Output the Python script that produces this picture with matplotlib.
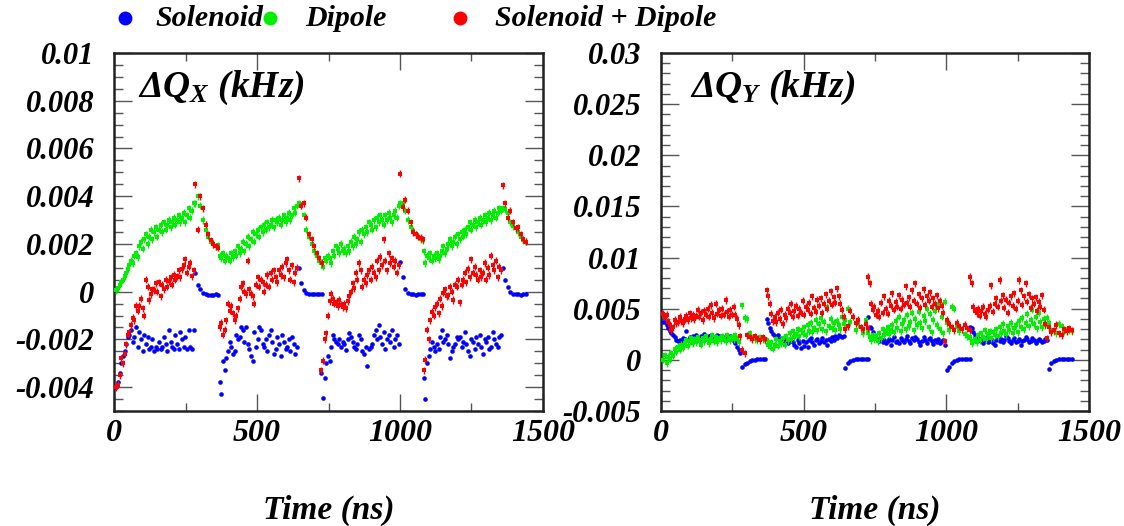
import numpy as np
import matplotlib
matplotlib.use('Agg')
import matplotlib.pyplot as plt
from matplotlib.lines import Line2D
from matplotlib.ticker import MultipleLocator

plt.rcParams['font.family'] = ['Liberation Serif', 'DejaVu Serif']
plt.rcParams['font.style'] = 'italic'
plt.rcParams['font.weight'] = 'bold'
plt.rcParams['mathtext.fontset'] = 'custom'
plt.rcParams['mathtext.rm'] = 'Liberation Serif:italic:bold'
plt.rcParams['mathtext.it'] = 'Liberation Serif:italic:bold'
plt.rcParams['mathtext.bf'] = 'Liberation Serif:italic:bold'

# ---------------- data (values in units of 1e-3) ----------------
series_names = ["Solenoid", "Dipole", "Solenoid + Dipole"]
series_colors = ["#0000ff", "#00ee00", "#ff0000"]

train_start_ns = [8, 370, 725, 1083]
bunch_span_ns = 270
tail_window_ns = [276, 357]

# ---- Delta Q_X ----
sol_x_bunch = [
    [-4.0, -3.8, -3.4, -3.0, -2.7, -2.5, -2.2, -1.9, -1.8, -1.6, -2.1, -1.9, -1.5, -2.3, -1.7, -2.0, -2.5, -1.8, -2.2, -1.9, -2.4, -2.3, -2.0, -2.5, -2.3, -2.4, -2.1, -2.4, -2.3, -1.9, -2.2, -2.5, -1.6, -2.1, -2.3, -2.4, -1.8, -2.2, -2.4, -1.7, -2.0, -2.3, -1.9, -2.4, -1.6, -2.3, -2.4, -1.6],
    [-3.8, -4.3, -2.9, -3.3, -2.8, -2.5, -2.1, -2.3, -2.6, -2.5, -1.8, -2.0, -1.9, -1.5, -1.6, -2.1, -1.5, -2.2, -2.4, -2.7, -2.9, -1.7, -2.3, -2.0, -1.5, -1.6, -2.2, -2.3, -2.0, -2.5, -1.8, -1.6, -2.1, -2.6, -2.4, -1.9, -2.2, -2.7, -1.8, -2.1, -2.4, -2.3, -2.0, -2.5, -1.9, -2.2, -2.6, -2.3],
    [-3.4, -4.45, -3.6, -3.0, -2.7, -2.9, -2.3, -1.8, -2.0, -2.1, -2.2, -2.0, -2.3, -2.1, -2.2, -2.45, -2.0, -1.75, -1.9, -2.1, -2.3, -2.4, -2.2, -1.8, -2.0, -2.5, -2.6, -2.3, -3.1, -2.4, -2.3, -2.2, -1.8, -1.6, -2.0, -1.4, -1.9, -2.2, -1.7, -2.4, -2.0, -1.8, -2.1, -1.6, -2.3, -2.0, -1.8, -2.2],
    [-3.6, -4.5, -3.0, -2.7, -2.4, -2.1, -2.3, -2.5, -2.2, -2.4, -1.9, -1.6, -2.1, -2.0, -1.8, -2.2, -2.8, -2.5, -2.3, -2.2, -1.9, -2.0, -1.9, -2.3, -2.1, -1.7, -2.2, -2.5, -2.7, -2.0, -2.1, -2.4, -1.9, -2.2, -1.8, -2.3, -2.6, -2.0, -2.1, -1.9, -2.4, -2.3, -1.7, -2.0, -2.2, -2.3, -1.9, -1.8],
]
sol_x_tail = [
    [0.8, 0.3, 0.1, -0.05, -0.1, -0.15, -0.15, -0.15, -0.1, -0.15],
    [1.0, 0.35, 0.05, -0.05, -0.1, -0.1, -0.1, -0.1, -0.1, -0.1],
    [1.25, 0.6, 0.1, -0.05, -0.1, -0.1, -0.15, -0.1, -0.1, -0.1],
    [1.0, 0.5, 0.2, 0.0, -0.1, -0.1, -0.1, -0.15, -0.1, -0.1],
]
dip_x_bunch = [
    [0.05, 0.15, 0.3, 0.4, 0.5, 0.65, 0.8, 0.95, 1.1, 1.3, 1.2, 1.5, 1.6, 1.45, 1.9, 2.1, 1.8, 2.2, 2.4, 2.0, 2.3, 2.6, 2.2, 2.5, 2.7, 2.3, 2.6, 2.8, 2.5, 2.9, 2.6, 2.8, 3.0, 2.7, 2.9, 3.1, 2.8, 3.0, 3.2, 2.9, 3.1, 3.3, 2.9, 3.2, 3.5, 3.1, 3.4, 3.7],
    [1.5, 1.4, 1.6, 1.3, 1.5, 1.4, 1.3, 1.6, 1.45, 1.7, 1.5, 1.9, 1.6, 1.8, 2.1, 1.7, 2.0, 2.3, 1.9, 2.2, 2.5, 2.1, 2.4, 2.6, 2.3, 2.7, 2.5, 2.8, 2.6, 2.9, 2.7, 2.8, 3.0, 2.7, 3.0, 2.9, 3.1, 2.8, 3.0, 3.2, 2.9, 3.1, 3.3, 3.0, 3.2, 3.5, 3.3, 3.6],
    [1.2, 1.05, 1.4, 1.3, 1.5, 1.4, 1.2, 1.7, 1.5, 1.9, 1.8, 1.6, 2.0, 1.7, 1.8, 1.6, 1.9, 1.7, 2.1, 1.9, 2.3, 2.0, 2.2, 2.5, 2.1, 2.6, 2.4, 2.7, 2.5, 2.9, 2.8, 2.6, 3.0, 2.7, 3.1, 2.9, 3.2, 3.0, 2.8, 3.2, 3.0, 3.3, 3.1, 2.9, 3.2, 3.4, 3.1, 3.6],
    [1.7, 1.2, 1.5, 1.4, 1.6, 1.3, 1.5, 1.4, 1.6, 1.35, 1.5, 1.7, 1.9, 1.6, 1.8, 2.0, 2.2, 1.9, 2.1, 2.3, 2.0, 2.4, 2.2, 2.5, 2.3, 2.6, 2.4, 2.7, 2.9, 2.6, 2.8, 3.0, 2.7, 2.9, 3.1, 2.8, 3.0, 3.2, 2.9, 3.1, 3.3, 3.0, 3.2, 3.4, 3.1, 3.3, 3.5, 3.4],
]
dip_x_tail = [
    [3.7, 4.0, 3.6, 3.0, 2.6, 2.3, 2.1, 2.0, 1.9, 1.95],
    [3.7, 3.6, 3.2, 2.6, 2.3, 2.0, 1.7, 1.5, 1.3, 1.2],
    [3.7, 3.7, 3.4, 3.0, 2.7, 2.55, 2.4, 2.3, 2.2, 2.15],
    [3.5, 3.45, 3.3, 2.9, 2.75, 2.65, 2.5, 2.3, 2.15, 2.1],
]
sd_x_bunch = [
    [-4.0, -3.9, -3.5, -2.8, -3.0, -2.6, -2.2, -1.8, -1.7, -1.4, -1.1, -1.2, -0.6, -0.8, -0.6, -0.3, -0.7, -1.0, 0.5, 0.2, -0.35, -0.1, 0.1, 0.07, 0.35, 0.0, 0.4, -0.2, 0.3, 0.1, 0.5, 0.2, 0.45, 0.6, 0.3, 0.7, 0.5, 0.65, 0.9, 0.6, 0.95, 1.1, 1.35, 0.8, 1.05, 1.2, 0.65, 0.9],
    [-1.5, -1.3, -1.8, -1.6, -1.2, -0.5, -0.8, -0.6, -0.9, -1.2, -1.0, -0.7, -0.3, 0.2, 0.35, 0.0, -0.1, 1.3, 0.1, -0.1, -0.2, -0.5, 0.3, 0.6, 0.2, 0.5, 0.4, 0.0, 0.3, 0.7, 0.2, 0.8, 0.5, 0.9, 0.6, 0.4, 0.9, 0.7, 1.05, 0.6, 1.2, 1.35, 0.9, 0.5, 1.1, 0.4, 0.8, 1.0],
    [-3.3, -2.9, -2.0, -1.75, -1.0, -0.4, -0.1, -0.3, -0.5, -0.45, -0.6, -0.35, -0.55, -0.65, -0.5, -0.7, -0.4, -0.2, 0.0, 0.35, 0.15, 0.8, 0.5, 1.2, 0.9, 0.2, 0.5, 0.35, 0.7, 0.9, 0.5, 1.05, 0.8, 0.6, 1.3, 0.9, 1.45, 1.1, 2.2, 1.3, 0.9, 1.6, 1.2, 1.4, 1.05, 1.3, 0.8, 1.1],
    [-3.3, -2.85, -1.6, -2.0, -1.2, -0.85, -1.0, -0.65, -0.5, -0.9, -0.3, -0.6, -0.05, 0.1, -0.2, -0.15, 0.2, 0.0, -0.35, 0.3, 0.2, 0.5, -0.45, 0.3, 0.5, 0.8, 0.4, 0.95, 0.6, 1.35, 0.8, 1.05, 0.7, 0.5, 0.9, 0.6, 0.8, 1.2, 0.5, 1.0, 0.7, 1.5, 1.1, 0.9, 1.3, 0.6, 1.05, 0.9],
]
sd_x_tail = [
    [4.5, 2.6, 4.0, 3.5, 2.8, 2.4, 2.15, 2.0, 1.9, 1.85],
    [4.75, 3.6, 3.7, 3.1, 2.4, 2.2, 1.9, 1.6, 1.4, 1.2],
    [4.95, 3.55, 3.85, 3.4, 2.9, 2.5, 2.4, 2.3, 2.25, 2.2],
    [4.45, 3.7, 3.1, 3.4, 2.9, 2.65, 2.7, 2.4, 2.2, 2.1],
]

# ---- Delta Q_Y ----
sol_y_bunch = [
    [3.7, 3.7, 3.4, 3.1, 2.8, 2.6, 2.4, 2.2, 1.95, 1.8, 1.9, 1.75, 2.1, 2.0, 2.8, 1.9, 2.2, 2.1, 2.3, 2.0, 2.4, 2.2, 1.9, 2.3, 2.1, 2.5, 2.2, 2.0, 2.3, 2.4, 2.1, 2.2, 2.0, 2.4, 2.3, 2.1, 2.25, 2.0, 2.35, 2.2, 2.1, 2.3, 2.2, 1.8, 1.6, 1.3, 1.0, 0.65],
    [4.0, 3.6, 3.1, 2.8, 2.5, 2.3, 2.1, 2.4, 2.0, 1.8, 1.7, 1.9, 1.8, 1.6, 2.0, 1.8, 1.7, 1.5, 1.3, 1.9, 1.6, 1.2, 1.8, 1.4, 1.7, 1.3, 1.9, 2.1, 1.7, 1.5, 1.9, 2.0, 1.6, 1.8, 2.1, 1.7, 1.9, 1.5, 2.0, 1.8, 2.2, 1.9, 2.3, 2.1, 2.4, 2.3, 2.2, 2.3],
    [4.2, 3.2, 3.1, 2.7, 2.3, 2.1, 1.9, 1.8, 2.0, 1.7, 1.9, 1.6, 1.8, 2.0, 1.5, 1.9, 2.2, 1.7, 1.8, 1.6, 2.1, 1.9, 1.7, 2.0, 2.3, 1.8, 1.6, 2.1, 1.9, 2.2, 2.0, 1.7, 1.5, 1.8, 2.2, 1.9, 1.6, 2.0, 2.1, 1.8, 1.55, 1.9, 1.7, 2.0, 1.6, 1.8, 1.9, 1.5],
    [3.2, 3.1, 2.75, 2.4, 2.1, 1.9, 2.0, 1.8, 1.6, 1.9, 2.1, 1.7, 1.8, 2.0, 1.6, 1.5, 1.9, 2.2, 1.8, 2.0, 1.7, 1.9, 2.3, 2.1, 1.8, 1.6, 1.9, 2.1, 1.7, 1.8, 2.0, 1.5, 1.8, 1.9, 2.2, 2.0, 1.7, 1.8, 2.1, 1.9, 1.6, 1.8, 2.0, 1.9, 1.7, 1.8, 2.0, 1.9],
]
sol_y_tail = [
    [-0.65, -0.45, -0.3, -0.15, -0.05, 0.0, 0.05, 0.05, 0.05, 0.05],
    [-0.8, -0.35, -0.15, 0.0, 0.05, 0.05, 0.05, 0.05, 0.05, 0.05],
    [-1.0, -0.65, -0.35, -0.15, 0.0, 0.05, 0.05, 0.1, 0.05, 0.05],
    [-0.85, -0.35, -0.15, 0.0, 0.05, 0.05, 0.1, 0.1, 0.1, 0.1],
]
dip_y_bunch = [
    [0.0, 0.45, -0.3, 0.3, 0.0, 0.65, 0.4, 1.1, 0.8, 1.3, 1.0, 1.45, 1.2, 1.6, 1.9, 1.4, 1.8, 2.1, 1.6, 2.0, 1.7, 2.2, 1.9, 1.5, 2.1, 1.8, 2.3, 1.9, 1.6, 2.0, 2.4, 1.8, 2.2, 1.7, 2.1, 1.9, 2.3, 2.0, 1.8, 2.4, 2.1, 1.9, 2.2, 2.0, 2.4, 2.1, 1.7, 2.3],
    [1.9, 1.5, 1.3, 1.7, 1.1, 1.5, 2.0, 1.4, 1.8, 1.6, 2.1, 1.5, 2.3, 1.9, 2.6, 2.0, 2.8, 2.2, 2.5, 3.0, 2.3, 2.9, 2.6, 3.2, 2.4, 3.4, 2.8, 3.6, 2.7, 3.1, 3.9, 2.9, 3.5, 4.1, 3.0, 3.7, 2.8, 5.2, 3.3, 4.0, 3.1, 3.6, 2.9, 3.8, 3.4, 3.0, 4.2, 3.5],
    [2.6, 2.2, 1.9, 2.4, 2.0, 2.3, 1.8, 2.6, 2.1, 3.0, 2.4, 2.8, 3.2, 2.5, 2.9, 3.4, 2.7, 3.8, 3.1, 4.2, 2.8, 3.5, 3.9, 3.0, 4.4, 3.3, 3.7, 4.6, 2.9, 4.0, 3.4, 4.7, 3.6, 3.1, 4.3, 3.8, 5.0, 3.2, 4.5, 2.7, 3.9, 4.8, 3.4, 5.5, 3.0, 4.2, 2.6, 5.7],
    [2.1, 1.6, 1.8, 2.0, 1.7, 2.4, 1.9, 2.6, 2.2, 2.9, 2.0, 2.5, 2.8, 2.1, 2.7, 2.4, 3.0, 2.3, 3.2, 2.6, 3.5, 2.8, 2.5, 3.3, 2.9, 3.6, 2.6, 3.1, 3.4, 2.7, 3.8, 3.2, 4.1, 3.0, 3.6, 4.5, 3.3, 3.9, 4.9, 3.5, 4.2, 3.1, 4.6, 3.7, 3.2, 4.0, 3.4, 4.1],
]
dip_y_tail = [
    [5.35, 4.1, 4.0, 2.6, 2.2, 2.0, 1.9, 2.2, 2.0, 1.9],
    [3.9, 5.0, 3.7, 4.2, 2.9, 3.5, 3.2, 2.6, 3.9, 3.0],
    [3.6, 2.9, 5.2, 5.0, 3.2, 2.8, 3.0, 2.5, 2.3, 2.2],
    [3.6, 2.9, 2.8, 2.6, 3.5, 3.3, 2.75, 3.0, 2.9, 2.8],
]
sd_y_bunch = [
    [4.5, 4.2, 4.4, 3.7, 3.4, 2.9, 3.2, 3.9, 3.6, 3.7, 4.2, 3.8, 3.6, 4.0, 4.3, 3.9, 4.55, 4.1, 4.4, 4.0, 4.3, 4.9, 4.2, 4.6, 3.9, 4.8, 4.4, 5.0, 4.2, 5.36, 4.6, 4.1, 5.5, 4.5, 4.9, 4.3, 5.0, 4.4, 5.85, 4.7, 4.2, 4.9, 4.4, 5.2, 4.4, 4.0, 3.4, 2.3],
    [6.8, 6.2, 5.5, 4.5, 3.8, 4.2, 3.7, 4.6, 4.0, 4.9, 3.5, 4.4, 4.1, 5.0, 4.6, 5.5, 4.2, 4.8, 5.3, 4.3, 5.0, 4.6, 5.8, 4.4, 5.2, 4.9, 5.6, 4.5, 6.2, 5.1, 4.7, 5.9, 5.3, 6.0, 4.6, 5.5, 6.4, 5.0, 5.8, 6.7, 5.4, 6.1, 5.6, 7.0, 6.2, 5.5, 4.9, 4.2],
    [8.1, 7.5, 5.5, 4.9, 5.2, 4.4, 4.8, 4.2, 5.6, 4.6, 6.2, 5.0, 4.5, 5.8, 5.3, 6.5, 4.9, 5.7, 5.2, 6.3, 5.0, 5.9, 5.4, 7.2, 5.6, 6.1, 5.2, 6.8, 5.8, 7.5, 5.5, 6.4, 5.1, 6.0, 6.9, 5.4, 6.2, 5.8, 6.6, 5.2, 6.0, 5.5, 6.3, 5.05, 5.8, 5.3, 4.6, 1.8],
    [8.1, 7.5, 5.2, 4.8, 4.55, 5.0, 4.3, 4.8, 5.2, 4.5, 4.2, 4.9, 5.3, 7.3, 4.7, 5.5, 6.0, 5.2, 7.8, 5.8, 6.3, 5.1, 5.9, 4.6, 5.6, 6.2, 5.3, 6.5, 5.0, 5.8, 7.8, 6.8, 5.4, 6.2, 7.5, 5.7, 6.4, 5.1, 6.0, 5.5, 6.1, 4.8, 5.7, 5.2, 6.3, 4.9, 3.5, 2.1],
]
sd_y_tail = [
    [1.0, 0.65, 2.4, 2.2, 2.0, 2.3, 2.1, 1.9, 2.2, 2.0],
    [3.0, 3.3, 4.8, 4.2, 3.6, 3.9, 3.2, 3.0, 3.5, 3.1],
    [3.9, 3.5, 3.2, 2.9, 3.6, 3.3, 3.0, 3.4, 3.1, 2.9],
    [3.2, 2.7, 2.9, 3.4, 2.6, 2.4, 3.0, 2.8, 3.1, 2.9],
]

x_ticks = [0, 500, 1000, 1500]
x_tick_labels = ["0", "500", "1000", "1500"]
yx_ticks = [-0.004, -0.002, 0.0, 0.002, 0.004, 0.006, 0.008, 0.01]
yx_tick_labels = ["-0.004", "-0.002", "0", "0.002", "0.004", "0.006", "0.008", "0.01"]
yy_ticks = [-0.005, 0.0, 0.005, 0.01, 0.015, 0.02, 0.025, 0.03]
yy_tick_labels = ["-0.005", "0", "0.005", "0.01", "0.015", "0.02", "0.025", "0.03"]


def assemble(bunches, tails):
    ts, vs = [], []
    for s, b, t in zip(train_start_ns, bunches, tails):
        ts.append(np.linspace(s, s + bunch_span_ns, len(b)))
        vs.append(np.array(b))
        ts.append(np.linspace(s + tail_window_ns[0], s + tail_window_ns[1], len(t)))
        vs.append(np.array(t))
    return np.concatenate(ts), np.concatenate(vs) * 1e-3


W, H = 1124, 526
fig = plt.figure(figsize=(W / 100, H / 100), dpi=100)
axL = fig.add_axes([114 / W, 1 - 411 / H, 429 / W, 358 / H])
axR = fig.add_axes([661 / W, 1 - 411 / H, 428 / W, 358 / H])

panels = [
    (axL, [(sol_x_bunch, sol_x_tail), (dip_x_bunch, dip_x_tail), (sd_x_bunch, sd_x_tail)],
     (-0.005, 0.01), yx_ticks, yx_tick_labels, 0.0005, 0.00015, r'$\Delta Q_{X}$ (kHz)', 0.055),
    (axR, [(sol_y_bunch, sol_y_tail), (dip_y_bunch, dip_y_tail), (sd_y_bunch, sd_y_tail)],
     (-0.005, 0.03), yy_ticks, yy_tick_labels, 0.001, 0.00035, r'$\Delta Q_{Y}$ (kHz)', 0.068),
]

for ax, series, ylim, yt, ytl, yminor, yerr, label, lx in panels:
    for k, ((b, t), col) in enumerate(zip(series, series_colors)):
        tt, vv = assemble(b, t)
        if k == 0:
            ax.plot(tt, vv, 'o', color=col, ms=3.3, mew=0, zorder=3)
        else:
            ax.errorbar(tt, vv, yerr=yerr, fmt='s', color=col, ms=2.6, mew=0,
                        elinewidth=1.0, capsize=0, zorder=2 + k)
    ax.set_xlim(0, 1500)
    ax.set_ylim(*ylim)
    ax.set_xticks(x_ticks)
    ax.set_xticklabels(x_tick_labels)
    ax.set_yticks(yt)
    ax.set_yticklabels(ytl)
    ax.xaxis.set_minor_locator(MultipleLocator(250))
    ax.yaxis.set_minor_locator(MultipleLocator(yminor))
    ax.tick_params(which='both', direction='in', top=True, right=True, color='#555555', width=1)
    ax.tick_params(axis='y', which='major', length=13, labelsize=22, pad=14)
    ax.tick_params(axis='y', which='minor', length=6.5)
    ax.tick_params(axis='x', which='major', length=12, labelsize=23, pad=6)
    ax.tick_params(axis='x', which='minor', length=6)
    for sp in ax.spines.values():
        sp.set_linewidth(1.8)
        sp.set_color('#222222')
    ax.text(lx, 0.955, label, transform=ax.transAxes, fontsize=27, va='top', ha='left')
    bb = ax.get_position()
    fig.text(bb.x0 + bb.width / 2, 1 - 510 / H, "Time (ns)", fontsize=24,
             ha='center', va='center')

# legend row
leg_marker_x = [125, 270, 460]
leg_text_x = [155, 305, 495]
for mx, tx, name, col in zip(leg_marker_x, leg_text_x, series_names, series_colors):
    fig.add_artist(Line2D([mx / W], [1 - 18 / H], marker='o', color=col, ms=10, mew=0,
                          linestyle='none', transform=fig.transFigure))
    fig.text(tx / W, 1 - 19 / H, name, fontsize=21.5, ha='left', va='center')

fig.savefig('out.png', dpi=100)
